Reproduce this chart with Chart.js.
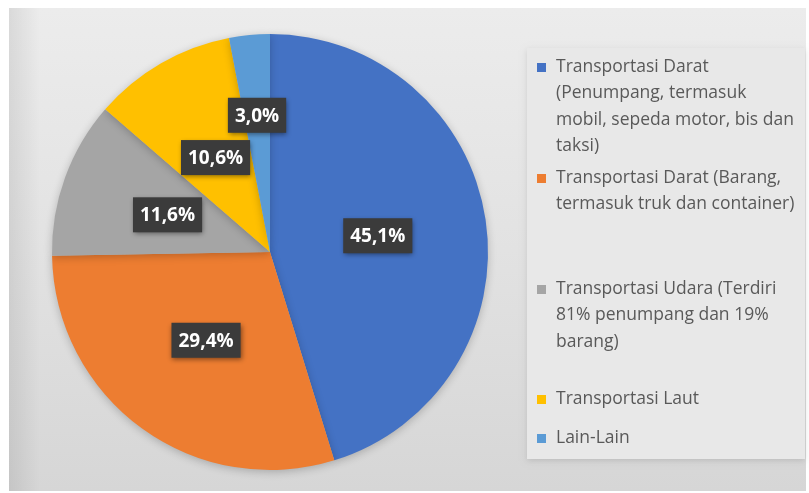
<!DOCTYPE html>
<html>
<head>
<meta charset="utf-8">
<script src="https://cdn.jsdelivr.net/npm/chart.js@4/dist/chart.umd.min.js"></script>
<style>
  html, body { margin: 0; padding: 0; background: #ffffff; }
  #wrap { width: 809px; height: 493px; position: relative; }
</style>
</head>
<body>
<div id="wrap"><canvas id="pie" width="809" height="493"></canvas></div>
<script>
// Share of emissions by transport mode (%)
const categories = [
  ['Transportasi Darat', '(Penumpang, termasuk', 'mobil, sepeda motor, bis dan', 'taksi)'],
  ['Transportasi Darat (Barang,', 'termasuk truk dan container)'],
  ['Transportasi Udara (Terdiri', '81% penumpang dan 19%', 'barang)'],
  ['Transportasi Laut'],
  ['Lain-Lain']
];
const shares = [45.1, 29.4, 11.6, 10.6, 3.0];
const shareLabels = ['45,1%', '29,4%', '11,6%', '10,6%', '3,0%'];
const sliceColors = ['#4472c4', '#ed7d31', '#a5a5a5', '#ffc000', '#5b9bd5'];

// layout bits for labels and the side legend
const labelRadius = [0.5, 0.5, 0.5, 0.5, 0.63];
const legendItemTop = [67, 178, 289, 399, 438];
const legendLineHeight = 26.5;

const panelBackground = {
  id: 'panelBackground',
  beforeDraw(chart) {
    const ctx = chart.ctx;
    ctx.save();
    ctx.fillStyle = '#ffffff';
    ctx.fillRect(0, 0, chart.width, chart.height);
    const g = ctx.createLinearGradient(0, 8, 0, 491);
    g.addColorStop(0, '#ececec');
    g.addColorStop(0.5, '#e2e2e2');
    g.addColorStop(1, '#d6d6d6');
    ctx.fillStyle = g;
    ctx.fillRect(9, 8, 797, 483);
    const side = ctx.createLinearGradient(9, 0, 40, 0);
    side.addColorStop(0, 'rgba(0,0,0,0.08)');
    side.addColorStop(1, 'rgba(0,0,0,0)');
    ctx.fillStyle = side;
    ctx.fillRect(9, 8, 31, 483);
    // legend box
    ctx.shadowColor = 'rgba(0,0,0,0.12)';
    ctx.shadowBlur = 6;
    ctx.shadowOffsetY = 2;
    ctx.fillStyle = '#e8e8e8';
    ctx.fillRect(527, 48, 278, 411);
    ctx.restore();
  }
};

const pieShadow = {
  id: 'pieShadow',
  beforeDatasetsDraw(chart) {
    const ctx = chart.ctx;
    ctx.save();
    ctx.shadowColor = 'rgba(0,0,0,0.22)';
    ctx.shadowBlur = 8;
    ctx.shadowOffsetY = 2;
  },
  afterDatasetsDraw(chart) {
    chart.ctx.restore();
  }
};

const valueBoxes = {
  id: 'valueBoxes',
  afterDatasetsDraw(chart) {
    const ctx = chart.ctx;
    const arcs = chart.getDatasetMeta(0).data;
    ctx.save();
    ctx.font = 'bold 19px "Open Sans", sans-serif';
    ctx.textAlign = 'center';
    ctx.textBaseline = 'middle';
    arcs.forEach((arc, i) => {
      const p = arc.getProps(['x', 'y', 'startAngle', 'endAngle', 'outerRadius']);
      const mid = (p.startAngle + p.endAngle) / 2;
      const r = p.outerRadius * labelRadius[i];
      const cx = p.x + Math.cos(mid) * r;
      const cy = p.y + Math.sin(mid) * r;
      const w = ctx.measureText(shareLabels[i]).width + 14;
      const h = 35;
      ctx.shadowColor = 'rgba(0,0,0,0.45)';
      ctx.shadowBlur = 5;
      ctx.shadowOffsetX = 1;
      ctx.shadowOffsetY = 2;
      ctx.fillStyle = '#3b3b3b';
      ctx.fillRect(cx - w / 2, cy - h / 2, w, h);
      ctx.shadowColor = 'transparent';
      ctx.fillStyle = '#ffffff';
      ctx.fillText(shareLabels[i], cx, cy + 1);
    });
    ctx.restore();
  }
};

const sideLegend = {
  id: 'sideLegend',
  afterDraw(chart) {
    const ctx = chart.ctx;
    ctx.save();
    ctx.font = '17.5px "Open Sans", sans-serif';
    ctx.textBaseline = 'middle';
    ctx.textAlign = 'left';
    categories.forEach((lines, i) => {
      const top = legendItemTop[i];
      ctx.fillStyle = sliceColors[i];
      ctx.fillRect(537, top - 4, 9, 9);
      ctx.fillStyle = '#595959';
      lines.forEach((line, k) => {
        ctx.fillText(line, 556, top + k * legendLineHeight);
      });
    });
    ctx.restore();
  }
};

new Chart(document.getElementById('pie'), {
  type: 'pie',
  data: {
    labels: categories.map(lines => lines.join(' ')),
    datasets: [{
      data: shares,
      backgroundColor: sliceColors,
      borderWidth: 0
    }]
  },
  options: {
    responsive: false,
    animation: false,
    layout: { padding: { left: 52, top: 34, right: 321, bottom: 23 } },
    plugins: {
      legend: { display: false },
      tooltip: { enabled: false }
    }
  },
  plugins: [panelBackground, pieShadow, valueBoxes, sideLegend]
});
</script>
</body>
</html>
